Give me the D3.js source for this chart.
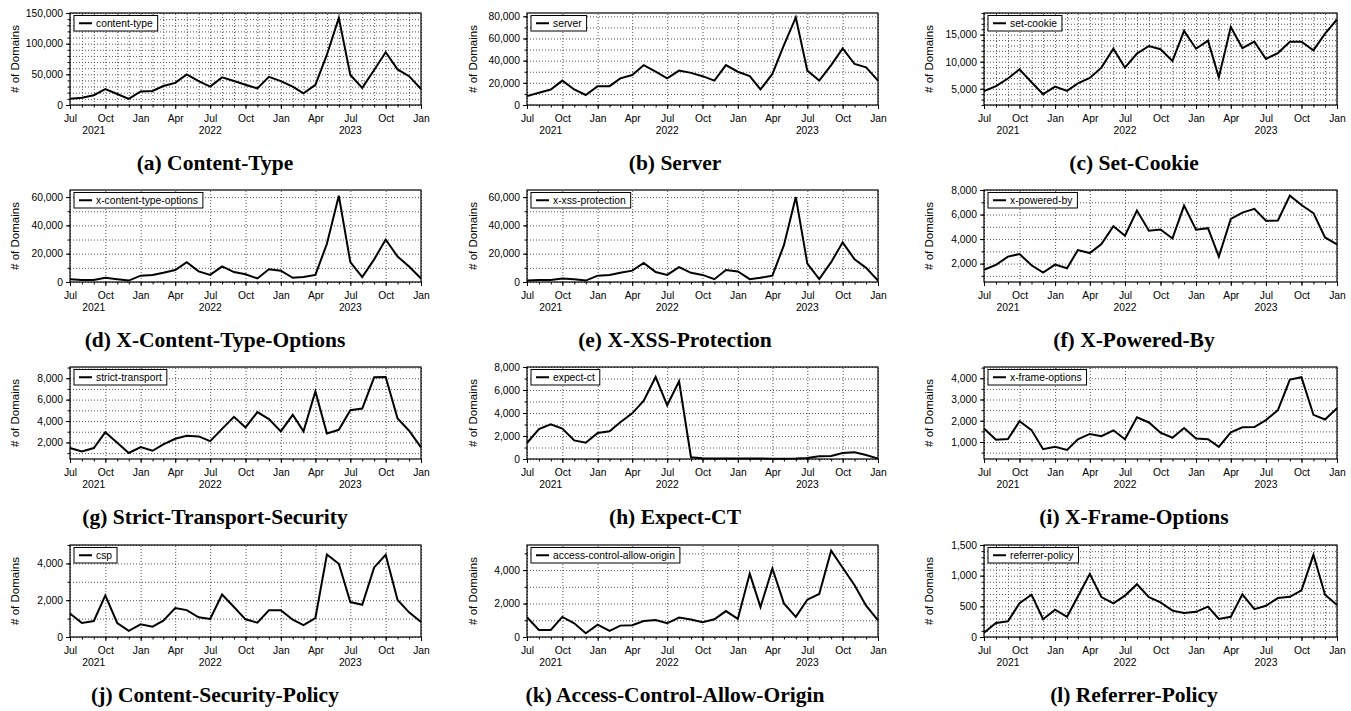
<!DOCTYPE html>
<html>
<head>
<meta charset="utf-8">
<script src="https://cdn.jsdelivr.net/npm/d3@7"></script>
<style>
body { margin: 0; background: #fff; }
text { font-family: "Liberation Sans", Arial, sans-serif; fill: #000; }
</style>
</head>
<body>
<script>
// monthly counts, Jul 2021 .. Jan 2024
var contentType = [10000,12000,16000,26000,18000,10000,22000,23000,31000,36000,50000,39000,30000,45000,39000,33000,27000,46000,39000,30000,19000,33000,82000,142000,49000,28000,57000,86000,58000,47000,26000];
var server = [8000,11000,14000,22000,14000,9000,17000,17000,24000,27000,36000,30000,24000,31000,29000,26000,22000,36000,30000,26000,14000,28000,54000,79000,31000,22000,36000,51000,37000,34000,22000];
var setCookie = [4570,5500,6900,8600,6200,4000,5400,4600,6000,7000,8900,12400,8900,11500,12900,12300,10150,15700,12400,13900,7100,16400,12500,13700,10500,11600,13700,13700,12100,15200,17800];
var xContentTypeOptions = [2000,1500,1500,3000,2000,1000,4500,5000,6500,8500,14000,7500,5000,11000,7000,5500,2500,9000,8000,3000,3500,5000,27000,61000,14000,3500,16000,30000,18000,11000,2500];
var xXssProtection = [1000,1500,1500,2500,2000,1000,4500,5000,6500,8000,13500,7000,5000,10500,6500,5000,2000,8500,7500,2000,3000,4500,26000,60000,13000,2000,14000,28000,16000,10000,1000];
var xPoweredBy = [1500,1900,2570,2780,1860,1270,1920,1620,3100,2860,3600,5050,4270,6320,4680,4780,4050,6730,4760,4890,2570,5650,6160,6460,5490,5510,7540,6780,6110,4130,3570];
var strictTransport = [1470,1160,1470,2960,1970,1010,1570,1220,1810,2340,2620,2560,2120,3270,4390,3400,4830,4180,3030,4580,3030,6760,2840,3180,5010,5170,8090,8120,4240,3090,1540];
var expectCt = [1390,2610,3010,2640,1620,1420,2260,2410,3190,3970,5070,7130,4670,6750,150,70,50,50,50,40,40,30,30,40,80,230,260,520,580,350,30];
var xFrameOptions = [1640,1110,1140,1980,1560,660,770,630,1130,1380,1270,1550,1130,2160,1920,1440,1200,1660,1160,1130,770,1450,1690,1700,2030,2500,3940,4050,2280,2060,2590];
var csp = [1280,760,870,2260,760,330,690,560,890,1570,1460,1070,980,2310,1630,960,780,1450,1450,940,650,1030,4480,3980,1900,1750,3780,4470,2010,1340,810];
var acao = [1180,420,420,1200,820,220,740,360,680,700,960,1020,820,1160,1040,880,1060,1550,1080,3790,1790,4100,2010,1200,2230,2570,5160,4140,3090,1870,1000];
var referrerPolicy = [70,230,255,550,690,290,445,330,660,1030,650,550,675,860,650,565,430,390,410,495,295,330,695,455,510,635,655,760,1340,690,520];

var legendNames = ["content-type","server","set-cookie","x-content-type-options","x-xss-protection","x-powered-by","strict-transport","expect-ct","x-frame-options","csp","access-control-allow-origin","referrer-policy"];
var captions = ["(a) Content-Type","(b) Server","(c) Set-Cookie","(d) X-Content-Type-Options","(e) X-XSS-Protection","(f) X-Powered-By","(g) Strict-Transport-Security","(h) Expect-CT","(i) X-Frame-Options","(j) Content-Security-Policy","(k) Access-Control-Allow-Origin","(l) Referrer-Policy"];
var yDomains = [[0,150000],[0,83000],[2000,19000],[0,65000],[0,65000],[500,8000],[450,9050],[0,8000],[200,4530],[0,5000],[0,5500],[0,1500]];
var yMajor = [[0,50000,100000,150000],[0,20000,40000,60000,80000],[5000,10000,15000],[0,20000,40000,60000],[0,20000,40000,60000],[2000,4000,6000,8000],[2000,4000,6000,8000],[0,2000,4000,6000,8000],[1000,2000,3000,4000],[0,2000,4000],[0,2000,4000],[0,500,1000,1500]];
var yMinorStep = [10000,10000,1000,10000,10000,1000,1000,1000,500,1000,1000,100];
var monthlyGrid = [true,false,true,false,false,false,false,false,false,false,false,true];
var yearLabels = ["2021","2022","2023"];
var yearDates = [new Date(2021,8,1), new Date(2022,6,1), new Date(2023,6,1)];

var series = [contentType, server, setCookie, xContentTypeOptions, xXssProtection, xPoweredBy, strictTransport, expectCt, xFrameOptions, csp, acao, referrerPolicy];

var Width = 1351, Height = 711;
var colX = [[70,421],[527,878],[984,1337]];
var colTitleX = [15,473,929];
var colCapX = [215,675,1134];
var rowTop = [13,190,367,545];
var plotH = 92;

var start = new Date(2021,6,1), end = new Date(2024,0,1);
var months = d3.timeMonth.range(start, new Date(2024,0,2));
var quarters = d3.timeMonth.every(3).range(start, new Date(2024,0,2));

var svg = d3.select("body").append("svg")
	.attr("width", Width)
	.attr("height", Height);

for (var i = 0; i < 12; i++) {
	drawPanel(i);
}

function drawPanel(i) {
	var col = i % 3, row = Math.floor(i / 3);
	var x0 = colX[col][0], x1 = colX[col][1];
	var top = rowTop[row], bottom = top + plotH;
	var w = x1 - x0;

	var x = d3.scaleTime().domain([start, end]).range([0, w]);
	var y = d3.scaleLinear().domain(yDomains[i]).range([plotH, 0]);

	var g = svg.append("g").attr("transform", "translate(" + x0 + "," + top + ")");

	// minor y values inside domain
	var dom = yDomains[i], step = yMinorStep[i];
	var minor = d3.range(Math.ceil(dom[0] / step) * step, dom[1] + 1, step);

	// grid
	g.append("g")
		.attr("class", "grid")
		.call(d3.axisLeft(y).tickValues(minor).tickSize(-w).tickFormat(""));
	g.append("g")
		.attr("class", "grid")
		.attr("transform", "translate(0," + plotH + ")")
		.call(d3.axisBottom(x).tickValues(monthlyGrid[i] ? months : quarters).tickSize(-plotH).tickFormat(""));
	g.selectAll(".grid path").remove();
	g.selectAll(".grid line")
		.attr("stroke", "#555")
		.attr("stroke-width", 1)
		.attr("stroke-dasharray", "1,2");

	// axes
	g.append("g")
		.attr("class", "ax")
		.attr("transform", "translate(0," + plotH + ")")
		.call(d3.axisBottom(x).tickValues(months).tickSize(2.5).tickFormat(""));
	g.append("g")
		.attr("class", "ax")
		.attr("transform", "translate(0," + plotH + ")")
		.call(d3.axisBottom(x).tickValues(quarters).tickSize(4).tickPadding(6).tickFormat(d3.timeFormat("%b")));
	g.append("g")
		.attr("class", "ax")
		.call(d3.axisLeft(y).tickValues(minor).tickSize(2.5).tickFormat(""));
	g.append("g")
		.attr("class", "ax")
		.call(d3.axisLeft(y).tickValues(yMajor[i]).tickSize(4).tickPadding(3).tickFormat(d3.format(",")));
	g.selectAll(".ax path").remove();
	g.selectAll(".ax line").attr("stroke", "#000");
	g.selectAll(".ax text")
		.attr("font-size", "10.3px")
		.attr("font-family", "'Liberation Sans', Arial, sans-serif");

	// years
	g.selectAll(".year")
		.data(yearLabels)
		.enter().append("text")
		.attr("class", "year")
		.attr("x", function(d, k) { return x(yearDates[k]); })
		.attr("y", plotH + 29)
		.attr("text-anchor", "middle")
		.attr("font-size", "10.3px")
		.text(function(d) { return d; });

	// line
	var line = d3.line()
		.x(function(d, k) { return x(months[k]); })
		.y(function(d) { return y(d); });
	g.append("path")
		.datum(series[i])
		.attr("d", line)
		.attr("fill", "none")
		.attr("stroke", "#000")
		.attr("stroke-width", 2)
		.attr("stroke-linejoin", "miter");

	// frame
	g.append("rect")
		.attr("width", w)
		.attr("height", plotH)
		.attr("style", "fill: none; stroke-width:1.2; stroke:black");

	// legend
	var lg = g.append("g").attr("transform", "translate(4,2.5)");
	var box = lg.append("rect")
		.attr("height", 15.5)
		.attr("style", "fill: white; stroke-width:1; stroke:black");
	lg.append("line")
		.attr("x1", 5).attr("x2", 18)
		.attr("y1", 7.75).attr("y2", 7.75)
		.attr("stroke", "#000").attr("stroke-width", 2);
	var lt = lg.append("text")
		.attr("x", 22)
		.attr("y", 11.5)
		.attr("font-size", "10.3px")
		.text(legendNames[i]);
	box.attr("width", lt.node().getComputedTextLength() + 27);

	// y title
	svg.append("text")
		.attr("transform", "translate(" + (colTitleX[col] + 4) + "," + (top + plotH / 2) + ") rotate(-90)")
		.attr("text-anchor", "middle")
		.attr("font-size", "11.5px")
		.text("# of Domains");

	// caption
	svg.append("text")
		.attr("x", colCapX[col])
		.attr("y", bottom + 65)
		.attr("text-anchor", "middle")
		.attr("style", "font-family: 'Liberation Serif', 'Times New Roman', serif; font-weight: bold; font-size: 21.5px;")
		.text(captions[i]);
}
</script>
</body>
</html>
